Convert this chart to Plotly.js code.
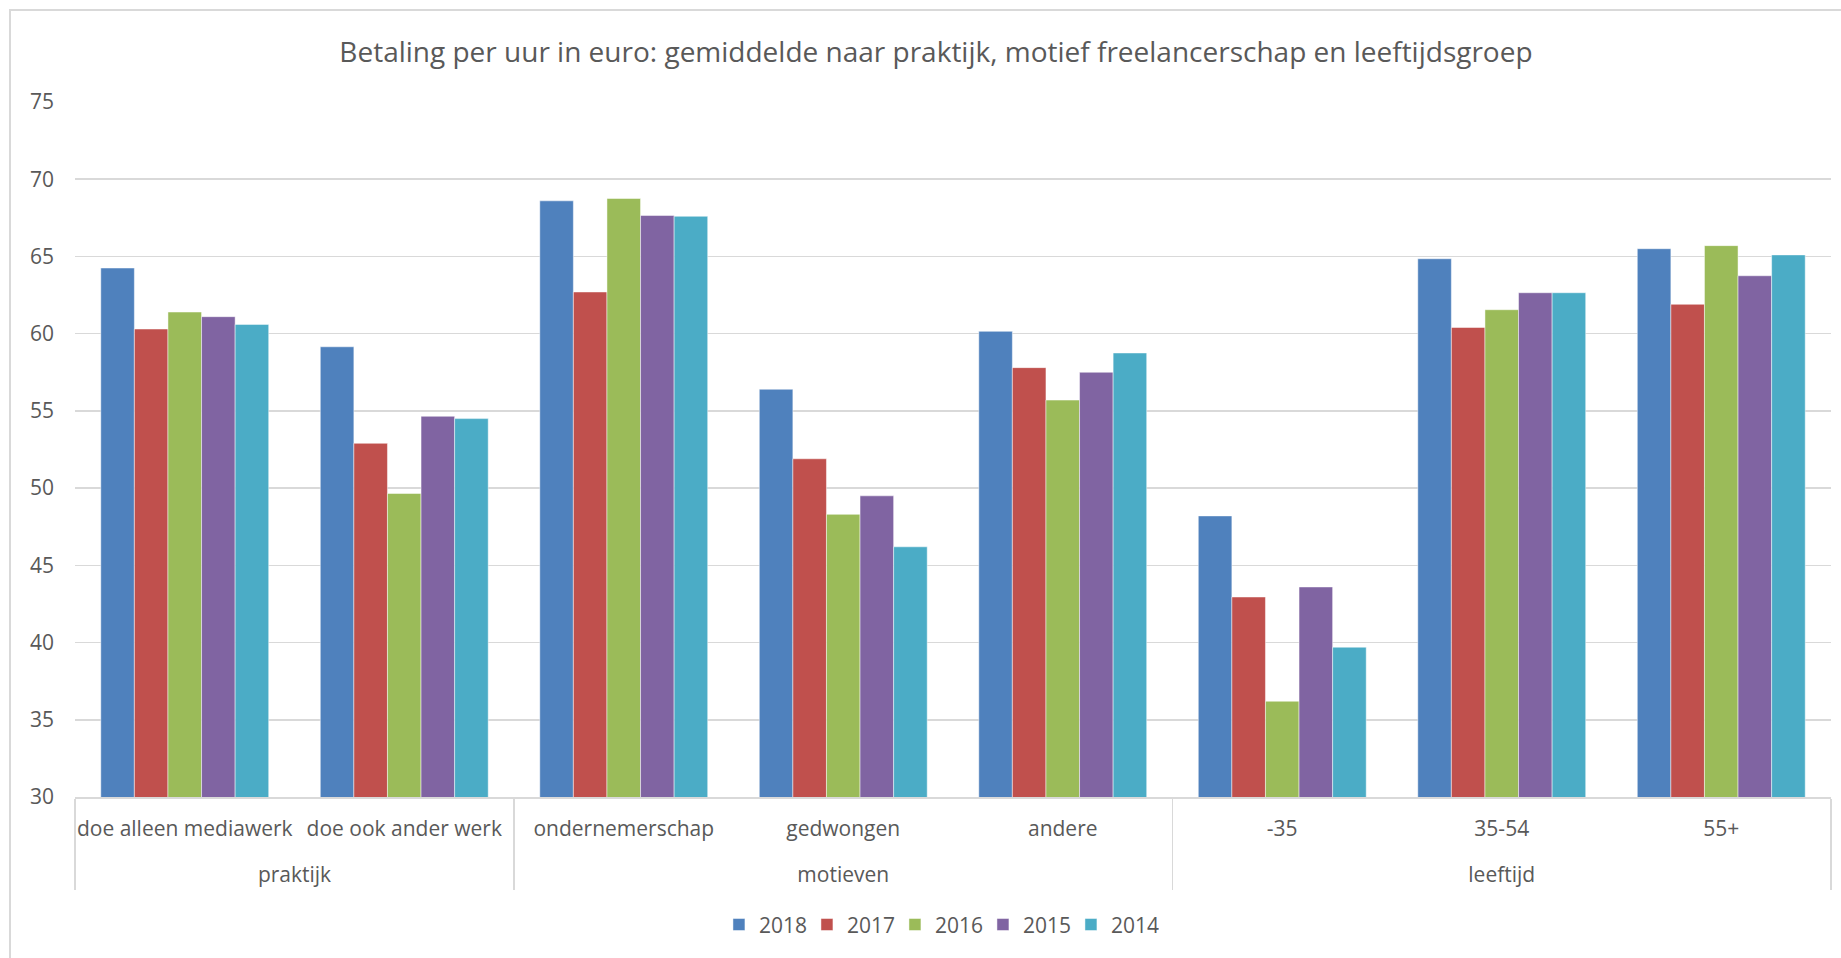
<!DOCTYPE html>
<html>
<head>
<meta charset="utf-8">
<script src="https://cdn.plot.ly/plotly-3.0.1.min.js"></script>
<style>
  html, body { margin: 0; padding: 0; background: #fff; }
  #wrap { position: relative; width: 1841px; height: 958px; overflow: hidden; }
  #chart { width: 1841px; height: 958px; }
  #frame { position: absolute; left: 9px; top: 9px; width: 1900px; height: 1000px;
           border-left: 2px solid #d9d9d9; border-top: 2px solid #d9d9d9; pointer-events: none; }
</style>
</head>
<body>
<div id="wrap">
  <div id="chart"></div>
  <div id="frame"></div>
</div>
<script>
const groups = ["praktijk", "praktijk", "motieven", "motieven", "motieven", "leeftijd", "leeftijd", "leeftijd"];
const categories = ["doe alleen mediawerk", "doe ook ander werk", "ondernemerschap", "gedwongen", "andere", "-35", "35-54", "55+"];
const seriesNames = ["2018", "2017", "2016", "2015", "2014"];
const v2018 = [64.25, 59.15, 68.6, 56.4, 60.15, 48.2, 64.85, 65.5];
const v2017 = [60.3, 52.9, 62.7, 51.9, 57.8, 42.95, 60.4, 61.9];
const v2016 = [61.4, 49.65, 68.75, 48.3, 55.7, 36.2, 61.55, 65.7];
const v2015 = [61.1, 54.65, 67.65, 49.5, 57.5, 43.6, 62.65, 63.75];
const v2014 = [60.6, 54.5, 67.6, 46.2, 58.75, 39.7, 62.65, 65.1];
const colors = ["#4F81BD", "#C0504D", "#9BBB59", "#8064A2", "#4BACC6"];
const yTicks = [30, 35, 40, 45, 50, 55, 60, 65, 70, 75];

// The category labels keep their text; the last one gets an invisible extra line so that
// the group level of the multicategory axis sits lower, as in the reference.
const catLabels = categories.map((c, i) =>
  i === categories.length - 1 ? c + "<br><span style='font-size:24px'>&nbsp;</span>" : c);

const allValues = [v2018, v2017, v2016, v2015, v2014];
const traces = seriesNames.map((name, i) => ({
  type: "bar",
  name: name,
  x: [groups, catLabels],
  y: allValues[i],
  marker: { color: colors[i], line: { width: 0.8, color: "rgba(255,255,255,0.6)" } },
  hoverinfo: "y+name"
}));

const font = "'Open Sans', sans-serif";
const layout = {
  width: 1841,
  height: 958,
  paper_bgcolor: "#ffffff",
  plot_bgcolor: "#ffffff",
  font: { family: font, color: "#595959", size: 21 },
  title: {
    text: "Betaling per uur in euro: gemiddelde naar praktijk, motief freelancerschap en leeftijdsgroep",
    font: { family: font, size: 28, color: "#595959" },
    x: 0.5084, xanchor: "center",
    y: 1 - 52 / 958, yanchor: "middle"
  },
  margin: { l: 75, r: 10, t: 102, b: 161 },
  barmode: "group",
  bargap: 0.235,
  bargroupgap: 0,
  showlegend: true,
  legend: {
    orientation: "h",
    x: 0.492, xanchor: "center",
    y: -0.184, yanchor: "middle",
    font: { family: font, size: 21, color: "#595959" },
    itemwidth: 30,
    entrywidth: 43,
    traceorder: "normal"
  },
  xaxis: {
    type: "multicategory",
    tickangle: 0,
    showline: true,
    linecolor: "#d9d9d9",
    linewidth: 2,
    showgrid: false,
    zeroline: false,
    ticks: "",
    showdividers: true,
    dividercolor: "#d9d9d9",
    dividerwidth: 1.5,
    ticklabelstandoff: 12,
    tickfont: { family: font, size: 21, color: "#595959" }
  },
  yaxis: {
    range: [30, 75],
    tickvals: yTicks,
    showgrid: true,
    gridcolor: "#d9d9d9",
    gridwidth: 1.5,
    zeroline: false,
    showline: false,
    ticks: "",
    ticklabelstandoff: 20,
    tickfont: { family: font, size: 21, color: "#595959" }
  }
};

Plotly.newPlot("chart", traces, layout, { displayModeBar: false, staticPlot: true });
</script>
</body>
</html>
